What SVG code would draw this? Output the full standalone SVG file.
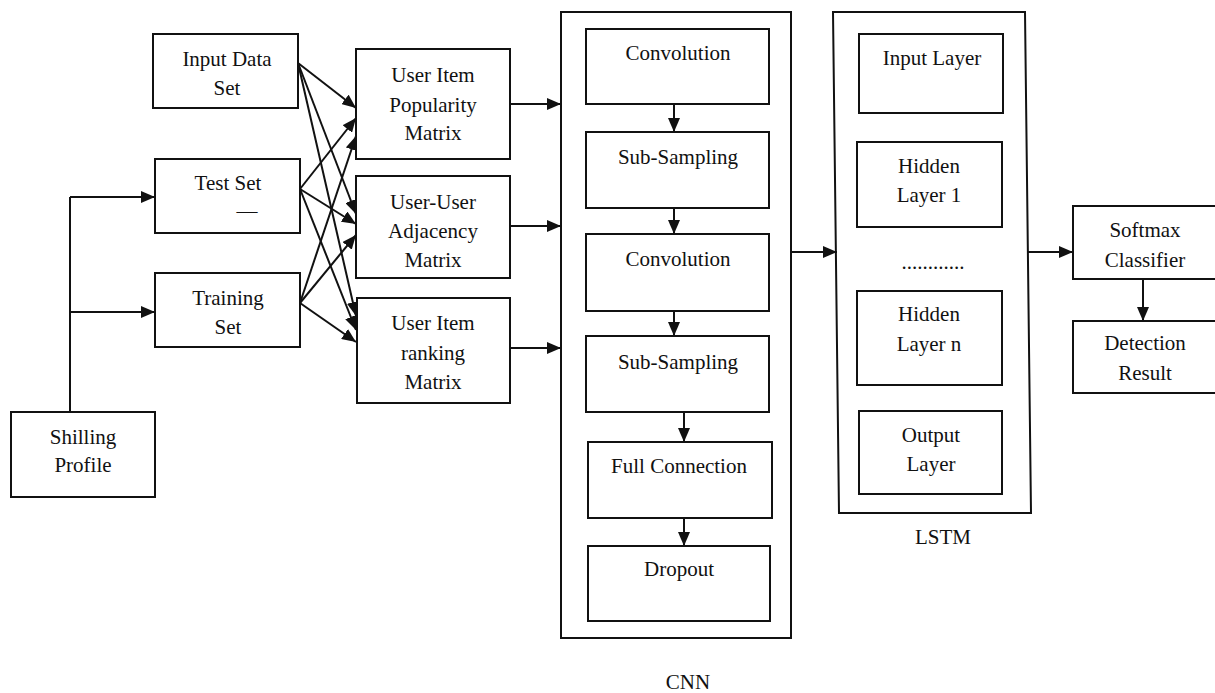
<svg xmlns="http://www.w3.org/2000/svg" width="1215" height="693" viewBox="0 0 1215 693">
<style>
.box{fill:#fff;stroke:#111;stroke-width:2}
.frame{fill:none;stroke:#111;stroke-width:2}
.t{font-family:"Liberation Serif","Times New Roman",serif;font-size:21px;fill:#111;text-anchor:middle}
.c{fill:none;stroke:#111;stroke-width:2;marker-end:url(#ah)}
.l{fill:none;stroke:#111;stroke-width:2}
</style>
<defs>
<marker id="ah" viewBox="0 0 14 12" refX="14" refY="6" markerWidth="14" markerHeight="12" markerUnits="userSpaceOnUse" orient="auto">
<path d="M0,0 L14,6 L0,12 z" fill="#111"/>
</marker>
</defs>
<rect width="1215" height="693" fill="#fff"/>

<g id="connectors">
<polyline class="l" points="70,412 70,197"/>
<line class="c" x1="70" y1="197" x2="155" y2="197"/>
<line class="c" x1="70" y1="312" x2="155" y2="312"/>
<line class="c" x1="298" y1="63" x2="356" y2="108"/>
<line class="c" x1="298" y1="63" x2="356" y2="214"/>
<line class="c" x1="298" y1="63" x2="356" y2="316"/>
<line class="c" x1="300" y1="189" x2="356" y2="118"/>
<line class="c" x1="300" y1="189" x2="356" y2="224"/>
<line class="c" x1="300" y1="189" x2="356" y2="330"/>
<line class="c" x1="300" y1="303" x2="356" y2="136"/>
<line class="c" x1="300" y1="303" x2="356" y2="235"/>
<line class="c" x1="300" y1="303" x2="356" y2="342"/>
<line class="c" x1="510" y1="104" x2="561" y2="104"/>
<line class="c" x1="510" y1="226" x2="561" y2="226"/>
<line class="c" x1="510" y1="348" x2="561" y2="348"/>
<line class="c" x1="674" y1="104" x2="674" y2="132"/>
<line class="c" x1="674" y1="208" x2="674" y2="234"/>
<line class="c" x1="674" y1="309" x2="674" y2="336"/>
<line class="c" x1="684" y1="412" x2="684" y2="442"/>
<line class="c" x1="684" y1="518" x2="684" y2="546"/>
<line class="c" x1="791" y1="252" x2="837" y2="252"/>
<line class="c" x1="1028" y1="252" x2="1073" y2="252"/>
<line class="c" x1="1143" y1="279" x2="1143" y2="321"/>
</g>

<g id="input-data-set">
<rect class="box" x="153" y="34" width="145" height="74"/>
<text class="t" x="227" y="66">Input Data</text>
<text class="t" x="227" y="95">Set</text>
</g>
<g id="test-set">
<rect class="box" x="155" y="159" width="145" height="74"/>
<text class="t" x="228" y="190">Test Set</text>
<text class="t" x="247" y="218">—</text>
</g>
<g id="training-set">
<rect class="box" x="155" y="273" width="145" height="74"/>
<text class="t" x="228" y="305">Training</text>
<text class="t" x="228" y="334">Set</text>
</g>
<g id="shilling-profile">
<rect class="box" x="11" y="412" width="144" height="85"/>
<text class="t" x="83" y="444">Shilling</text>
<text class="t" x="83" y="472">Profile</text>
</g>

<g id="popularity-matrix">
<rect class="box" x="356" y="49" width="154" height="110"/>
<text class="t" x="433" y="82">User Item</text>
<text class="t" x="433" y="112">Popularity</text>
<text class="t" x="433" y="140">Matrix</text>
</g>
<g id="adjacency-matrix">
<rect class="box" x="356" y="176" width="154" height="102"/>
<text class="t" x="433" y="209">User-User</text>
<text class="t" x="433" y="238">Adjacency</text>
<text class="t" x="433" y="267">Matrix</text>
</g>
<g id="ranking-matrix">
<rect class="box" x="357" y="298" width="153" height="105"/>
<text class="t" x="433" y="330">User Item</text>
<text class="t" x="433" y="360">ranking</text>
<text class="t" x="433" y="389">Matrix</text>
</g>

<g id="cnn">
<rect class="frame" x="561" y="12" width="230" height="626"/>
<text class="t" x="688" y="689">CNN</text>
</g>
<g id="convolution-1">
<rect class="box" x="586" y="29" width="183" height="75"/>
<text class="t" x="678" y="60">Convolution</text>
</g>
<g id="subsampling-1">
<rect class="box" x="586" y="132" width="183" height="76"/>
<text class="t" x="678" y="164">Sub-Sampling</text>
</g>
<g id="convolution-2">
<rect class="box" x="586" y="234" width="183" height="77"/>
<text class="t" x="678" y="266">Convolution</text>
</g>
<g id="subsampling-2">
<rect class="box" x="586" y="336" width="183" height="76"/>
<text class="t" x="678" y="369">Sub-Sampling</text>
</g>
<g id="full-connection">
<rect class="box" x="588" y="442" width="184" height="76"/>
<text class="t" x="679" y="473">Full Connection</text>
</g>
<g id="dropout">
<rect class="box" x="588" y="546" width="182" height="75"/>
<text class="t" x="679" y="576">Dropout</text>
</g>

<g id="lstm">
<polygon class="frame" points="833,12 1025,12 1031,513 839,513"/>
<text class="t" x="943" y="544">LSTM</text>
</g>
<g id="input-layer">
<rect class="box" x="859" y="34" width="144" height="79"/>
<text class="t" x="932" y="65">Input Layer</text>
</g>
<g id="hidden-layer-1">
<rect class="box" x="857" y="142" width="145" height="85"/>
<text class="t" x="929" y="173">Hidden</text>
<text class="t" x="929" y="202">Layer 1</text>
</g>
<text class="t" x="933" y="269">............</text>
<g id="hidden-layer-n">
<rect class="box" x="857" y="291" width="145" height="94"/>
<text class="t" x="929" y="321">Hidden</text>
<text class="t" x="929" y="351">Layer n</text>
</g>
<g id="output-layer">
<rect class="box" x="859" y="411" width="143" height="83"/>
<text class="t" x="931" y="442">Output</text>
<text class="t" x="931" y="471">Layer</text>
</g>

<g id="softmax-classifier">
<rect class="box" x="1073" y="206" width="150" height="73"/>
<text class="t" x="1145" y="237">Softmax</text>
<text class="t" x="1145" y="267">Classifier</text>
</g>
<g id="detection-result">
<rect class="box" x="1073" y="321" width="150" height="72"/>
<text class="t" x="1145" y="350">Detection</text>
<text class="t" x="1145" y="380">Result</text>
</g>
</svg>
